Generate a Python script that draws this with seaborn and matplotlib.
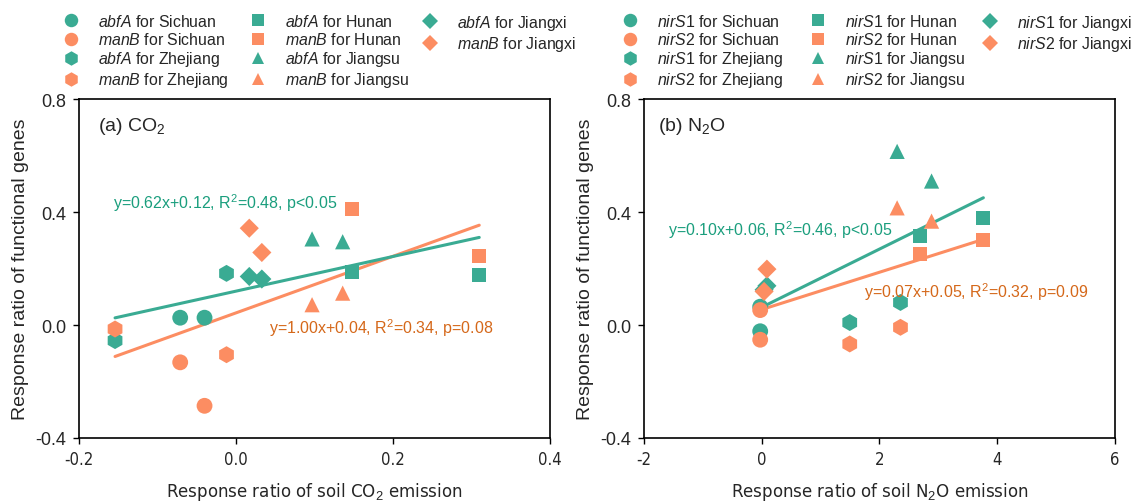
import numpy as np
import pandas as pd
import matplotlib
matplotlib.use("Agg")
import matplotlib.pyplot as plt
from matplotlib import font_manager
from matplotlib.lines import Line2D
import seaborn as sns

# ---------------- data ----------------
regions = ["Sichuan", "Sichuan", "Zhejiang", "Zhejiang", "Jiangsu", "Jiangsu",
           "Jiangxi", "Jiangxi", "Hunan", "Hunan"]

# panel (a) CO2
co2_x = [-0.071, -0.040, -0.154, -0.012, 0.097, 0.136, 0.017, 0.033, 0.148, 0.310]
abfA_y = [0.026, 0.026, -0.055, 0.183, 0.305, 0.295, 0.172, 0.163, 0.189, 0.177]
manB_y = [-0.132, -0.286, -0.014, -0.105, 0.072, 0.113, 0.343, 0.257, 0.410, 0.243]

# panel (b) N2O
n2o_x = [-0.026, -0.026, 1.495, 2.357, 2.300, 2.885, 0.088, 0.040, 2.686, 3.765]
nirS1_y = [0.065, -0.022, 0.009, 0.080, 0.615, 0.510, 0.139, 0.125, 0.316, 0.378]
nirS2_y = [0.053, -0.052, -0.067, -0.008, 0.415, 0.368, 0.198, 0.119, 0.251, 0.302]

# fitted lines (slope, intercept)
fit_a = {"abfA": (0.614, 0.120), "manB": (1.002, 0.043)}
fit_b = {"nirS1": (0.103, 0.063), "nirS2": (0.066, 0.055)}

eq_a = {"abfA": "y=0.62x+0.12, R$^2$=0.48, p<0.05",
        "manB": "y=1.00x+0.04, R$^2$=0.34, p=0.08"}
eq_b = {"nirS1": "y=0.10x+0.06, R$^2$=0.46, p<0.05",
        "nirS2": "y=0.07x+0.05, R$^2$=0.32, p=0.09"}

legend_columns = [["Sichuan", "Zhejiang"], ["Hunan", "Jiangsu"], ["Jiangxi"]]
xticks_a = [-0.2, 0.0, 0.2, 0.4]
xtlabels_a = ["-0.2", "0.0", "0.2", "0.4"]
xticks_b = [-2, 0, 2, 4, 6]
xtlabels_b = ["-2", "0", "2", "4", "6"]
yticks = [-0.4, 0.0, 0.4, 0.8]
ytlabels = ["-0.4", "0.0", "0.4", "0.8"]

# ---------------- style ----------------
sns.set_theme(style="white")
avail = {f.name for f in font_manager.fontManager.ttflist}
main_font = "Liberation Sans" if "Liberation Sans" in avail else "DejaVu Sans"
plt.rcParams["font.family"] = [main_font, "DejaVu Sans"]
plt.rcParams["mathtext.fontset"] = "custom"
plt.rcParams["mathtext.rm"] = main_font
plt.rcParams["mathtext.it"] = main_font + ":italic"

# narrow font for x-axis texts
narrow_name = None
for f in font_manager.fontManager.ttflist:
    if f.name == "Liberation Sans Narrow" and f.style == "normal":
        narrow_name = f.name
        break
if narrow_name is None:
    for f in font_manager.fontManager.ttflist:
        if f.name == "DejaVu Sans" and f.stretch == "condensed" and f.style == "normal":
            narrow_name = "DejaVu Sans"
            break


def narrow_props(size):
    if narrow_name == "Liberation Sans Narrow":
        return dict(family=narrow_name, size=size)
    if narrow_name == "DejaVu Sans":
        return dict(family="DejaVu Sans", stretch="condensed", size=size - 1)
    return dict(family=main_font, size=size)


TEAL = "#3aab93"
ORANGE = "#fc8d62"
TEAL_TXT = "#1a9e7d"
ORANGE_TXT = "#d5681a"
markers = {"Sichuan": "o", "Zhejiang": "h", "Jiangsu": "^", "Jiangxi": "D", "Hunan": "s"}
sizes = {"Sichuan": 130, "Zhejiang": 150, "Jiangsu": 120, "Jiangxi": 95, "Hunan": 100}

W, H = 1131, 502
fig = plt.figure(figsize=(W / 100, H / 100), dpi=100)
axA = fig.add_axes([0.0698, 0.1255, 0.4164, 0.675])
axB = fig.add_axes([0.5694, 0.1255, 0.4164, 0.675])


def panel(ax, x, y1, y2, g1, g2, fits, eqs, eqpos, xlim, xticks, xtlabels, xlabel,
          title, titlepos):
    df = pd.DataFrame({"x": list(x) * 2, "y": list(y1) + list(y2),
                       "gene": [g1] * len(x) + [g2] * len(x),
                       "region": regions * 2})
    for g, col in [(g1, TEAL), (g2, ORANGE)]:
        for r in markers:
            sub = df[(df.gene == g) & (df.region == r)]
            sns.scatterplot(data=sub, x="x", y="y", marker=markers[r], s=sizes[r],
                            color=col, edgecolor="none", ax=ax, legend=False, zorder=3)
    xs = np.array([min(x), max(x)])
    for g, col in [(g2, ORANGE), (g1, TEAL)]:
        m, b = fits[g]
        sns.lineplot(x=xs, y=m * xs + b, color=col, lw=2.2, ax=ax, zorder=2)
    for g, col in [(g1, TEAL_TXT), (g2, ORANGE_TXT)]:
        px, py = eqpos[g]
        ax.text(px, py, eqs[g], color=col, fontsize=11.5, ha="left", va="center")
    ax.text(titlepos[0], titlepos[1], title, fontsize=14, ha="left", va="center")
    ax.set_xlim(*xlim)
    ax.set_ylim(-0.4, 0.8)
    ax.set_xticks(xticks)
    ax.set_xticklabels(xtlabels, **narrow_props(13))
    ax.set_yticks(yticks)
    ax.set_yticklabels(ytlabels, fontsize=13)
    ax.tick_params(direction="out", length=4, width=1, color="black",
                   bottom=True, left=True, pad=5)
    for s in ax.spines.values():
        s.set_color("black")
        s.set_linewidth(1.2)
    ax.set_xlabel(xlabel, labelpad=8, **narrow_props(14.3))
    ax.set_ylabel("Response ratio of functional genes", fontsize=14, labelpad=5)


panel(axA, co2_x, abfA_y, manB_y, "abfA", "manB", fit_a, eq_a,
      {"abfA": (-0.157, 0.435), "manB": (0.042, -0.008)},
      (-0.2, 0.4), xticks_a, xtlabels_a, "Response ratio of soil CO$_2$ emission",
      "(a) CO$_2$", (-0.176, 0.705))
panel(axB, n2o_x, nirS1_y, nirS2_y, "nirS1", "nirS2", fit_b, eq_b,
      {"nirS1": (-1.59, 0.34), "nirS2": (1.73, 0.12)},
      (-2, 6), xticks_b, xtlabels_b, "Response ratio of soil N$_2$O emission",
      "(b) N$_2$O", (-1.76, 0.705))

LEG_FS = 11.4
FS_PX = LEG_FS * 100 / 72


def legend(g1, g2, marker_xs, top_px):
    for col_regions, mx in zip(legend_columns, marker_xs):
        handles, labels = [], []
        for r in col_regions:
            for g, col in [(g1, TEAL), (g2, ORANGE)]:
                handles.append(Line2D([], [], ls="none", marker=markers[r], color=col,
                                      markersize=np.sqrt(sizes[r]) * 0.85,
                                      markeredgewidth=0))
                labels.append(f"$\\it{{{g}}}$ for {r}")
        ax_x = (mx - FS_PX * 0.5) / W
        fig.legend(handles, labels, loc="upper left", bbox_to_anchor=(ax_x, 1 - top_px / H),
                   ncol=1, frameon=False, fontsize=LEG_FS, handlelength=1.0,
                   handletextpad=1.2, labelspacing=0.13, borderpad=0, borderaxespad=0)


legend("abfA", "manB", [71, 258, 430], 14)
legend("nirS1", "nirS2", [630, 818, 990], 14)

fig.savefig("out.png", dpi=100)
